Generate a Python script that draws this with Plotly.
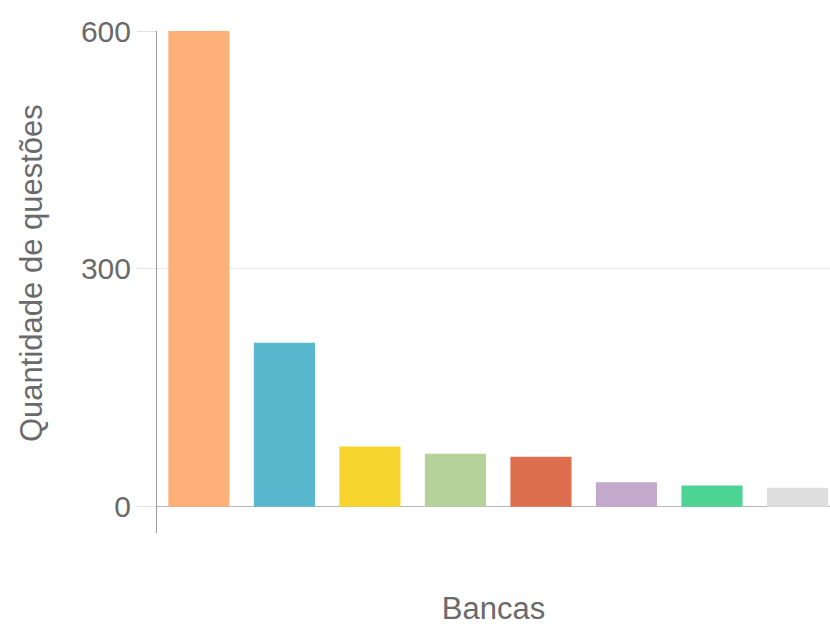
import plotly.graph_objects as go

categories = ["Banca 1", "Banca 2", "Banca 3", "Banca 4", "Banca 5", "Banca 6", "Banca 7", "Banca 8"]
values = [600, 207, 76, 67, 63, 31, 27, 24]
colors = ["#FDB078", "#59B7CE", "#F7D52F", "#B5D29A", "#DD6E4E", "#C3A9CC", "#4DD494", "#DEDEDE"]
y_title = "Quantidade de questões"
x_title = "Bancas"

fig = go.Figure(
    go.Bar(x=categories, y=values, marker=dict(color=colors, line=dict(width=0)))
)

font_family = "Liberation Sans, Arial, sans-serif"
text_color = "#6a6a6a"
fig.update_layout(
    width=830,
    height=626,
    margin=dict(l=157, r=0, t=31, b=93),
    paper_bgcolor="white",
    plot_bgcolor="white",
    bargap=0.285,
    showlegend=False,
    font=dict(family=font_family, color=text_color),
    xaxis=dict(
        range=[-0.49, 7.38],
        showticklabels=False,
        showgrid=False,
        showline=False,
        zeroline=False,
        title=dict(text=x_title, font=dict(size=31, color=text_color), standoff=66),
    ),
    yaxis=dict(
        range=[-33, 600],
        tickvals=[0, 300, 600],
        ticks="outside",
        ticklen=19,
        tickcolor="#e2e2e2",
        tickfont=dict(size=30, color=text_color),
        showgrid=True,
        gridcolor="#e8e8e8",
        gridwidth=1,
        zeroline=True,
        zerolinecolor="#b8b8b8",
        zerolinewidth=1,
        showline=True,
        linecolor="#9a9a9a",
        linewidth=1,
    ),
    annotations=[
        dict(
            text=y_title,
            textangle=-90,
            xref="paper",
            yref="paper",
            x=(31.5 - 157) / 673,
            y=(533 - 273.5) / 502,
            xanchor="center",
            yanchor="middle",
            showarrow=False,
            font=dict(size=31, color=text_color),
        )
    ],
)

fig.write_html("out.html")
